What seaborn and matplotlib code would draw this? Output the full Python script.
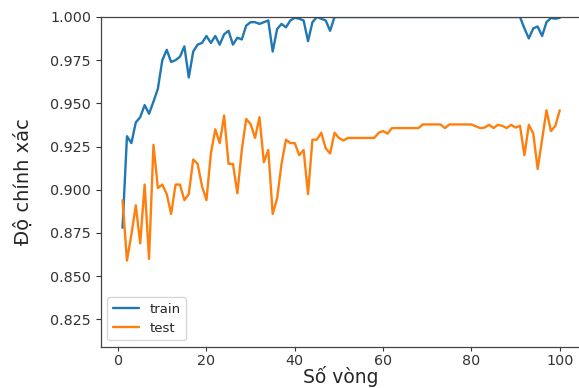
import numpy as np
import pandas as pd
import matplotlib
matplotlib.use("Agg")
import matplotlib.pyplot as plt
import seaborn as sns

# accuracy per round
rounds = list(range(1, 101))

train_acc = [0.878, 0.931, 0.927, 0.939, 0.942, 0.949, 0.944, 0.951, 0.9585, 0.975,
             0.981, 0.974, 0.975, 0.977, 0.983, 0.965, 0.980, 0.984, 0.985, 0.989,
             0.985, 0.989, 0.984, 0.990, 0.992, 0.984, 0.988, 0.987, 0.995, 0.997,
             0.997, 0.996, 0.997, 0.998, 0.980, 0.993, 0.996, 0.994, 0.998, 0.9995,
             0.999, 0.998, 0.986, 0.997, 1.000, 0.999, 0.998, 0.992, 1.000, 1.000,
             1.000, 1.000, 1.000, 1.000, 1.000, 1.000, 1.000, 1.000, 1.000, 1.000,
             1.000, 1.000, 1.000, 1.000, 1.000, 1.000, 1.000, 1.000, 1.000, 1.000,
             1.000, 1.000, 1.000, 1.000, 1.000, 1.000, 1.000, 1.000, 1.000, 1.000,
             1.000, 1.000, 1.000, 1.000, 1.000, 1.000, 1.000, 1.000, 1.000, 1.000,
             1.000, 0.9934, 0.9876, 0.9934, 0.9945, 0.989, 0.997, 0.9994, 0.999, 0.9995]

test_acc = [0.894, 0.859, 0.874, 0.891, 0.869, 0.903, 0.860, 0.926, 0.901, 0.903,
            0.8975, 0.886, 0.903, 0.903, 0.894, 0.8975, 0.9175, 0.915, 0.902, 0.894,
            0.921, 0.935, 0.927, 0.943, 0.915, 0.915, 0.898, 0.923, 0.941, 0.938,
            0.930, 0.942, 0.916, 0.923, 0.886, 0.895, 0.915, 0.929, 0.927, 0.927,
            0.920, 0.923, 0.8975, 0.929, 0.929, 0.933, 0.924, 0.921, 0.933, 0.930,
            0.9285, 0.930, 0.930, 0.930, 0.930, 0.930, 0.930, 0.930, 0.933, 0.934,
            0.9325, 0.9357, 0.9357, 0.9357, 0.9357, 0.9357, 0.9357, 0.9357, 0.9378, 0.9378,
            0.9378, 0.9378, 0.9378, 0.9357, 0.9378, 0.9378, 0.9378, 0.9378, 0.9378, 0.9378,
            0.9367, 0.9357, 0.936, 0.9376, 0.9357, 0.9376, 0.937, 0.9357, 0.9376, 0.936,
            0.937, 0.920, 0.9376, 0.9326, 0.912, 0.929, 0.946, 0.934, 0.937, 0.946]

series_names = ["train", "test"]

df = pd.DataFrame({
    "round": rounds * 2,
    "acc": train_acc + test_acc,
    "set": [series_names[0]] * len(rounds) + [series_names[1]] * len(rounds),
})

sns.set_style("ticks")
plt.rcParams["font.family"] = ["DejaVu Sans"]

fig = plt.figure(figsize=(5.79, 3.88), dpi=100)
ax = fig.add_axes([0.1739, 0.1057, 0.8306, 0.8505])

sns.lineplot(data=df, x="round", y="acc", hue="set",
             palette=["#1f77b4", "#ff7f0e"], linewidth=1.7, ax=ax)

ax.set_ylim(0.809, 1.0)
ax.set_xticks([0, 20, 40, 60, 80, 100])
ax.set_yticks([0.825, 0.850, 0.875, 0.900, 0.925, 0.950, 0.975, 1.000])
ax.tick_params(labelsize=10.3, colors="#333333")
ax.tick_params(axis="x", length=3, pad=2)
for s in ax.spines.values():
    s.set_color("#444444")
    s.set_linewidth(0.9)

ax.set_xlabel("Số vòng", fontsize=13.5, labelpad=-1.5)
ax.set_ylabel("Độ chính xác", fontsize=14, labelpad=12)

ax.legend(loc="lower left", fontsize=9.5, frameon=True)

fig.savefig("out.png", dpi=100)
